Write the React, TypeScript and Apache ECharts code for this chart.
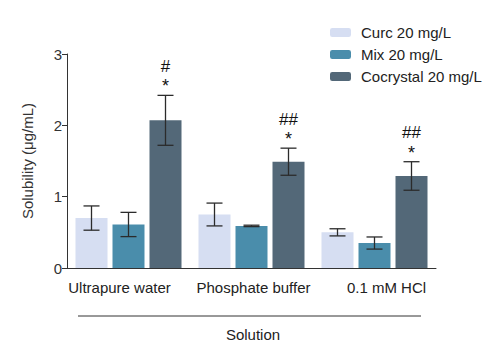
import React, { useEffect, useRef } from "react";
import * as echarts from "echarts";

const categories = ["Ultrapure water", "Phosphate buffer", "0.1 mM HCl"];
const seriesNames = ["Curc 20 mg/L", "Mix 20 mg/L", "Cocrystal 20 mg/L"];
const curcMean = [0.7, 0.75, 0.5];
const curcErr = [0.17, 0.16, 0.05];
const mixMean = [0.61, 0.59, 0.35];
const mixErr = [0.17, 0.01, 0.085];
const cocMean = [2.07, 1.49, 1.29];
const cocErr = [0.35, 0.19, 0.2];
const starMarks = ["*", "*", "*"];
const hashMarks = ["#", "##", "##"];
const yTicks = [0, 1, 2, 3];

const colors = ["#d6def2", "#4a8dab", "#536878"];
const BAR_W = 32;
const GAP = 5;
const FONT = "Arial, 'Liberation Sans', sans-serif";

export default function App() {
  const ref = useRef<HTMLDivElement>(null);
  useEffect(() => {
    if (!ref.current) return;
    document.body.style.margin = "0";
    const chart = echarts.init(ref.current, null, { renderer: "svg" });
    const means = [curcMean, mixMean, cocMean];
    const errs = [curcErr, mixErr, cocErr];

    const barSeries = seriesNames.map((name, i) => ({
      name,
      type: "bar",
      data: means[i],
      barWidth: BAR_W,
      barGap: `${(GAP / BAR_W) * 100}%`,
      itemStyle: { color: colors[i] },
      z: 2,
    }));

    const errSeries = seriesNames.map((name, si) => ({
      type: "custom",
      name: name + " err",
      z: 5,
      silent: true,
      data: means[si].map((m, ci) => [ci, m, errs[si][ci]]),
      renderItem: (params: any, api: any) => {
        const ci = api.value(0);
        const m = api.value(1);
        const e = api.value(2);
        const off = (si - 1) * (BAR_W + GAP);
        const top = api.coord([ci, m + e]);
        const bot = api.coord([ci, m - e]);
        const x = top[0] + off;
        const cap = 8;
        const style = { stroke: "#2b2b2b", lineWidth: 1.3 };
        const children: any[] = [
          { type: "line", shape: { x1: x, y1: top[1], x2: x, y2: bot[1] }, style },
          { type: "line", shape: { x1: x - cap, y1: top[1], x2: x + cap, y2: top[1] }, style },
          { type: "line", shape: { x1: x - cap, y1: bot[1], x2: x + cap, y2: bot[1] }, style },
        ];
        if (si === 2) {
          children.push({
            type: "text",
            style: {
              text: starMarks[ci],
              x,
              y: top[1] - 9,
              align: "center",
              verticalAlign: "middle",
              fontSize: 18,
              fontFamily: FONT,
              fill: "#111",
            },
          });
          children.push({
            type: "text",
            style: {
              text: hashMarks[ci],
              x,
              y: top[1] - 29,
              align: "center",
              verticalAlign: "middle",
              fontSize: 17,
              fontFamily: FONT,
              fill: "#111",
            },
          });
        }
        return { type: "group", children };
      },
    }));

    chart.setOption({
      animation: false,
      textStyle: { fontFamily: FONT },
      grid: { left: 67, right: 62, top: 54, bottom: 87 },
      legend: {
        data: seriesNames,
        orient: "vertical",
        left: 325,
        top: 20,
        itemWidth: 21,
        itemHeight: 9,
        itemGap: 7,
        textStyle: { fontSize: 15, color: "#222", padding: [0, 0, 0, 5] },
      },
      xAxis: {
        type: "category",
        data: categories.map((c, i) => ({
          value: c,
          textStyle: { padding: i === 0 ? [0, 18, 0, 0] : i === 2 ? [0, 0, 0, 24] : [0, 0, 0, 4] },
        })),
        axisLine: { lineStyle: { color: "#333", width: 1 } },
        axisTick: { show: false },
        axisLabel: { fontSize: 15, color: "#222", margin: 12, interval: 0 },
      },
      yAxis: {
        type: "value",
        min: yTicks[0],
        max: yTicks[yTicks.length - 1],
        interval: 1,
        name: "Solubility (μg/mL)",
        nameLocation: "middle",
        nameGap: 32,
        nameTextStyle: { fontSize: 15, color: "#333" },
        axisLine: { show: true, lineStyle: { color: "#333", width: 1 } },
        axisTick: { show: true, length: 5, lineStyle: { color: "#333" } },
        splitLine: { show: false },
        axisLabel: { fontSize: 15, color: "#333", margin: 5 },
      },
      graphic: [
        {
          type: "line",
          shape: { x1: 78, y1: 316, x2: 421, y2: 316 },
          style: { stroke: "#333", lineWidth: 1 },
        },
        {
          type: "text",
          x: 253,
          y: 334,
          style: {
            text: "Solution",
            align: "center",
            verticalAlign: "middle",
            fontSize: 15,
            fill: "#222",
            fontFamily: FONT,
          },
        },
      ],
      series: [...barSeries, ...errSeries],
    });
    return () => chart.dispose();
  }, []);
  return <div ref={ref} style={{ width: 498, height: 355 }} />;
}
